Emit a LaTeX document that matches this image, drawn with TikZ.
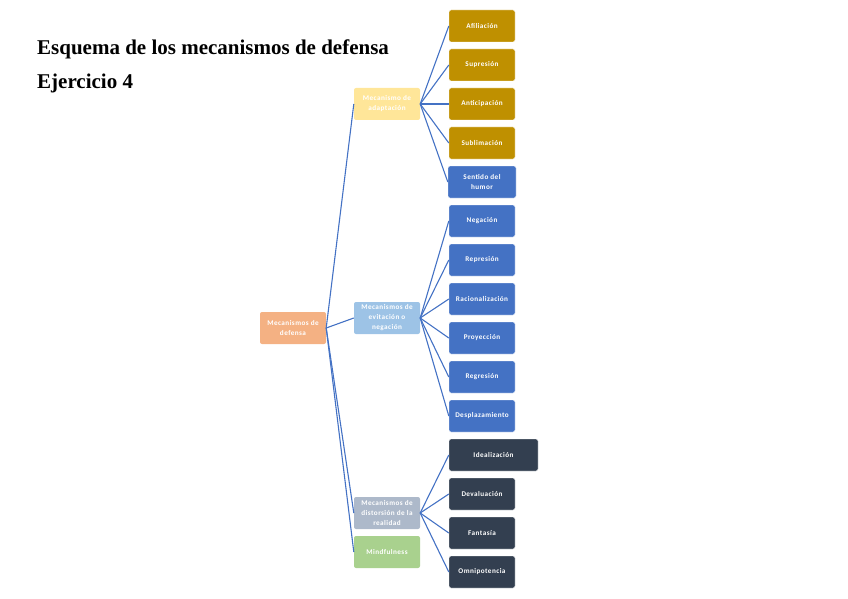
\documentclass[tikz,border=0pt]{standalone}
\usepackage{fontspec}
\setmainfont{Liberation Serif}
\newfontfamily\boxfont[LetterSpace=6]{Carlito}
\definecolor{cOrange}{HTML}{F4B183}
\definecolor{cYellow}{HTML}{FFE699}
\definecolor{cLBlue}{HTML}{9DC3E6}
\definecolor{cGrey}{HTML}{ADB9CA}
\definecolor{cGreen}{HTML}{A9D18E}
\definecolor{cGold}{HTML}{BF9000}
\definecolor{cBlue}{HTML}{4472C4}
\definecolor{cDark}{HTML}{333F50}
\definecolor{cLine}{HTML}{4472C4}
\tikzset{
  box/.style={rounded corners=2pt, minimum width=66pt, minimum height=32pt, inner sep=1pt,
    align=center, text=white, font=\boxfont\bfseries\fontsize{7.2}{10}\selectfont},
  catbox/.style={box, fill=#1},
  leaf/.style={box, fill=#1, draw=white, line width=0.4pt},
  conn/.style={draw=cLine, line width=1.1pt},
  title/.style={anchor=base west, inner sep=0pt, font=\bfseries\fontsize{21}{24}\selectfont}
}
\begin{document}
\begin{tikzpicture}[x=1pt,y=-1pt]
\useasboundingbox (0,0) rectangle (848,599);
\node[title] (t1) at (37,55) {Esquema de los mecanismos de defensa};
\node[title] (t2) at (37,89) {Ejercicio 4};

\node[catbox=cOrange] (root) at (293,328) {Mecanismos de\\defensa};
\node[catbox=cYellow] (adap) at (387,104) {Mecanismo de\\adaptación};
\node[catbox=cLBlue] (evit) at (387,318) {Mecanismos de\\evitación o\\negación};
\node[catbox=cGrey] (dist) at (387,513) {Mecanismos de\\distorsión de la\\realidad};
\node[catbox=cGreen] (mind) at (387,552) {Mindfulness};

\node[leaf=cGold] (a1) at (482,26) {Afiliación};
\node[leaf=cGold] (a2) at (482,65) {Supresión};
\node[leaf=cGold] (a3) at (482,104) {Anticipación};
\node[leaf=cGold] (a4) at (482,143) {Sublimación};
\node[leaf=cBlue, minimum width=68pt] (a5) at (482,182) {Sentido del\\humor};

\node[leaf=cBlue] (e1) at (482,221) {Negación};
\node[leaf=cBlue] (e2) at (482,260) {Represión};
\node[leaf=cBlue] (e3) at (482,299) {Racionalización};
\node[leaf=cBlue] (e4) at (482,338) {Proyección};
\node[leaf=cBlue] (e5) at (482,377) {Regresión};
\node[leaf=cBlue] (e6) at (482,416) {Desplazamiento};

\node[leaf=cDark, minimum width=89pt] (d1) at (493.5,455) {Idealización};
\node[leaf=cDark] (d2) at (482,494) {Devaluación};
\node[leaf=cDark] (d3) at (482,533) {Fantasía};
\node[leaf=cDark] (d4) at (482,572) {Omnipotencia};

\foreach \c in {adap,evit,dist,mind} \draw[conn] (root.east) -- (\c.west);
\foreach \c in {a1,a2,a3,a4,a5} \draw[conn] (adap.east) -- (\c.west);
\foreach \c in {e1,e2,e3,e4,e5,e6} \draw[conn] (evit.east) -- (\c.west);
\foreach \c in {d1,d2,d3,d4} \draw[conn] (dist.east) -- (\c.west);
\end{tikzpicture}
\end{document}
